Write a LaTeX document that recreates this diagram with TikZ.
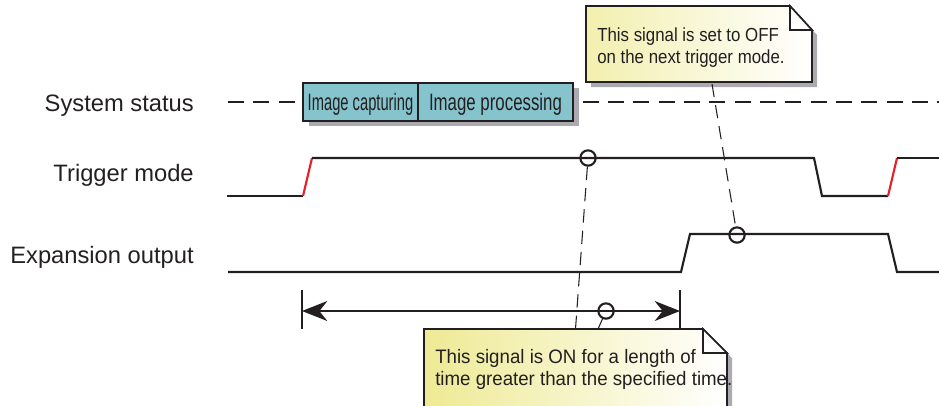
\documentclass[tikz,border=0pt]{standalone}
\usepackage{fontspec}
\setmainfont{Liberation Sans}
\usetikzlibrary{arrows.meta}
\definecolor{ink}{RGB}{35,31,32}
\definecolor{sigred}{RGB}{232,30,40}
\definecolor{tealbox}{RGB}{134,196,205}
\definecolor{noteyel}{RGB}{238,234,148}
\definecolor{shadowgray}{RGB}{170,170,176}
\tikzset{bigtip/.tip={Stealth[length=19pt,width=15pt,inset=6pt]}}
\begin{document}
\begin{tikzpicture}[x=0.75pt,y=-0.75pt,
  sig/.style={draw=ink, line width=1.6pt},
  risered/.style={draw=sigred, line width=1.6pt},
  statusdash/.style={draw=ink, line width=0.9pt, dash pattern=on 12pt off 7pt},
  calldash/.style={draw=ink, line width=0.8pt, dash pattern=on 10pt off 6pt},
  lbl/.style={font=\fontsize{17.8}{20}\selectfont, text=ink, inner sep=0pt, anchor=base east},
  cell/.style={draw=ink, line width=1.3pt, fill=tealbox, minimum height=28.5pt, inner sep=0pt,
    text height=14pt, text depth=0.5pt, font=\fontsize{17.8}{20}\selectfont, text=ink},
  marker/.style={circle, draw=ink, line width=1.6pt, minimum size=11.5pt, inner sep=0pt},
  notetxt/.style={inner sep=0pt, anchor=base west, text=ink},
  noteline/.style={draw=ink, line width=1.2pt, line join=miter}
]
\useasboundingbox (0,0) rectangle (939,405);
\clip (0,0) rectangle (939,405);

% labels
\node[lbl] (lsys) at (194,111.7) {System status};
\node[lbl] (ltrig) at (194,181.7) {Trigger mode};
\node[lbl] (lexp) at (194,263.3) {Expansion output};

% system status line and box
\draw[statusdash] (228,102) -- (939,102);
\fill[shadowgray] (309,88) rectangle (579,126);
\node[cell, minimum width=86.25pt] (cap) at (360.5,101.7) {\scalebox{0.62}[1]{Image capturing}};
\node[cell, minimum width=116.25pt] (proc) at (495.5,101.7) {\scalebox{0.71}[1]{Image processing}};

% trigger mode
\draw[sig] (227,196) -- (303,196);
\draw[risered] (303,196) -- (312,158);
\draw[sig] (312,158) -- (814,158) -- (822,196) -- (888,196);
\draw[risered] (888,196) -- (897,158);
\draw[sig] (897,158) -- (939,158);

% expansion output
\draw[sig] (228,272) -- (681,272) -- (690,234) -- (888,234) -- (897,272) -- (939,272);

% time arrow
\coordinate (aL) at (302,311);
\coordinate (aR) at (680,311);
\draw[draw=ink, line width=0.8pt] (302,290) -- (302,329);
\draw[draw=ink, line width=0.8pt] (680,290) -- (680,329);
\draw[draw=ink, line width=0.9pt, bigtip-bigtip] (aL) -- (aR);

% markers
\node[marker] (m1) at (588,158) {};
\node[marker] (m2) at (737,235) {};
\node[marker] (m3) at (606,311) {};

% top note
\fill[shadowgray, shift={(5,5)}] (586,6) -- (790,6) -- (812,30) -- (812,82) -- (586,82) -- cycle;
\shade[left color=noteyel!75, right color=white] (586,6) -- (790,6) -- (812,30) -- (812,82) -- (586,82) -- cycle;
\draw[noteline] (586,6) -- (790,6) -- (812,30) -- (812,82) -- (586,82) -- cycle;
\draw[noteline, fill=white] (790,6) -- (790,30) -- (812,30) -- cycle;
\node[notetxt, font=\fontsize{14.2}{16}\selectfont] (tn1) at (597,41) {\scalebox{0.89}[1]{This signal is set to OFF}};
\node[notetxt, font=\fontsize{14.2}{16}\selectfont] (tn2) at (597,63) {\scalebox{0.89}[1]{on the next trigger mode.}};
\coordinate (tnc) at (712,84);
\draw[calldash] (tnc) -- (m2);

% bottom note
\fill[shadowgray, shift={(5,5)}] (424,329) -- (703,329) -- (727,353) -- (727,420) -- (424,420) -- cycle;
\shade[left color=noteyel, right color=white] (424,329) -- (703,329) -- (727,353) -- (727,420) -- (424,420) -- cycle;
\draw[noteline] (424,420) -- (424,329) -- (703,329) -- (727,353) -- (727,420);
\draw[noteline, fill=white] (703,329) -- (703,353) -- (727,353) -- cycle;
\node[notetxt, font=\fontsize{14.6}{17}\selectfont] (bn1) at (435,363) {\scalebox{0.96}[1]{This signal is ON for a length of}};
\node[notetxt, font=\fontsize{14.6}{17}\selectfont] (bn2) at (435,385) {\scalebox{0.96}[1]{time greater than the specified time.}};
\coordinate (bc1) at (575.5,329);
\coordinate (bc2) at (598,329);
\draw[calldash] (m1) -- (bc1);
\draw[draw=ink, line width=0.8pt] (m3) -- (bc2);
\end{tikzpicture}
\end{document}
